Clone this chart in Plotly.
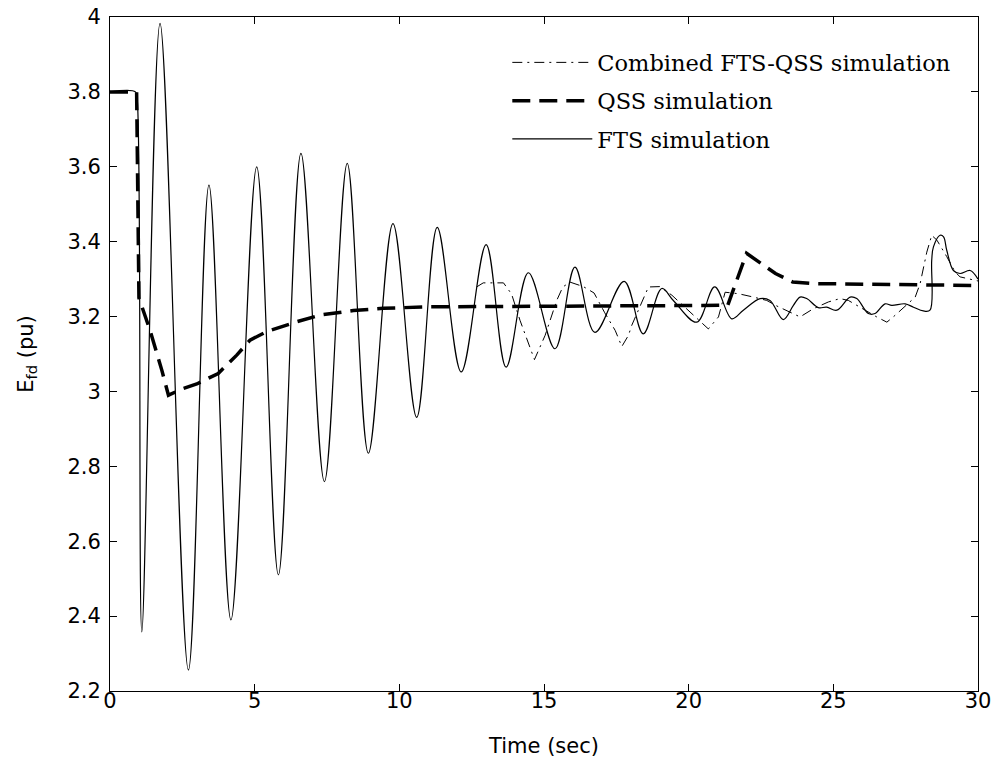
import plotly.graph_objects as go

# ---- data ----
fts_t = [0.0, 0.88, 0.94, 1.10, 1.73, 2.71, 3.42, 4.18, 5.07, 5.82, 6.60, 7.41, 8.20, 8.93,
         9.78, 10.60, 11.31, 12.14, 13.00, 13.69, 14.46, 15.38, 16.07, 16.76, 17.77, 18.43,
         19.07, 19.47, 20.28, 20.90, 21.49, 21.89, 22.47, 22.81, 23.27, 23.62, 23.85, 24.08,
         24.48, 24.77, 25.12, 25.58, 25.81, 26.21, 26.44, 26.79, 27.02, 27.48, 27.77, 28.11,
         28.34, 28.40, 28.46, 28.69, 28.81, 28.92, 29.15, 29.38, 29.73, 30.0]
fts_v = [3.80, 3.80, 3.78, 2.358, 3.983, 2.256, 3.551, 2.39, 3.60, 2.51, 3.636, 2.759, 3.609, 2.835,
         3.448, 2.931, 3.438, 3.052, 3.392, 3.065, 3.317, 3.114, 3.332, 3.158, 3.294, 3.154,
         3.275, 3.243, 3.185, 3.279, 3.194, 3.217, 3.248, 3.243, 3.192, 3.230, 3.252, 3.248,
         3.224, 3.225, 3.217, 3.252, 3.248, 3.208, 3.208, 3.234, 3.230, 3.234, 3.225, 3.215,
         3.217, 3.350, 3.386, 3.417, 3.413, 3.377, 3.323, 3.315, 3.323, 3.300]

qss_t = [0.0, 0.92, 1.00, 1.38, 1.79, 2.02, 2.53, 3.00, 3.74, 4.38, 4.84, 5.42, 6.45, 7.26,
         8.41, 9.45, 11.0, 15.0, 21.35, 22.00, 22.50, 23.00, 23.60, 24.30, 30.0]
qss_v = [3.80, 3.80, 3.25, 3.164, 3.057, 2.99, 3.008, 3.02, 3.048, 3.097, 3.137, 3.16, 3.186, 3.204,
         3.216, 3.222, 3.226, 3.228, 3.230, 3.369, 3.341, 3.315, 3.292, 3.288, 3.283]

comb_t = [12.67, 12.90, 13.60, 13.88, 14.17, 14.52, 14.67, 15.04, 15.44, 15.65, 15.90, 16.36,
          16.73, 17.10, 17.46, 17.69, 17.92, 18.03, 18.61, 19.00, 19.42, 20.68, 21.03, 21.26,
          21.72, 22.24, 22.70, 23.00, 23.85, 24.31, 24.83, 25.23, 25.52, 26.50, 26.85, 27.13,
          27.83, 28.00, 28.23, 28.40, 28.58, 28.92, 29.21, 29.38, 30.0]
comb_v = [3.279, 3.290, 3.290, 3.260, 3.190, 3.115, 3.085, 3.150, 3.243, 3.279, 3.292, 3.280,
          3.263, 3.210, 3.163, 3.120, 3.150, 3.176, 3.279, 3.280, 3.257, 3.167, 3.199, 3.265,
          3.261, 3.252, 3.243, 3.230, 3.199, 3.221, 3.239, 3.248, 3.243, 3.199, 3.185, 3.203,
          3.252, 3.288, 3.372, 3.417, 3.404, 3.360, 3.319, 3.306, 3.295]

x_ticks = [0, 5, 10, 15, 20, 25, 30]
y_ticks = [2.2, 2.4, 2.6, 2.8, 3.0, 3.2, 3.4, 3.6, 3.8, 4.0]

fig = go.Figure()
fig.add_trace(go.Scatter(x=comb_t, y=comb_v, mode="lines", name="Combined FTS-QSS simulation",
                         legendgroup="a",
                         line=dict(color="black", width=1, dash="10px,5px,2px,5px")))
fig.add_trace(go.Scatter(x=qss_t, y=qss_v, mode="lines", name="QSS simulation",
                         legendgroup="b",
                         line=dict(color="black", width=3.5, dash="18px,9px")))
fig.add_trace(go.Scatter(x=fts_t, y=fts_v, mode="lines", name="FTS simulation",
                         legendgroup="c",
                         line=dict(color="black", width=1.2, shape="spline", smoothing=1.0)))

axis_common = dict(showgrid=False, zeroline=False, showline=True, linecolor="black",
                   linewidth=1, mirror="allticks", ticks="inside", ticklen=7,
                   tickcolor="black", automargin=False, ticklabeloverflow="allow",
                   tickfont=dict(family="DejaVu Sans", size=21, color="black"))

fig.update_layout(
    width=997, height=767,
    margin=dict(l=110, r=19, t=17, b=76),
    paper_bgcolor="white", plot_bgcolor="white",
    showlegend=True,
    legend=dict(x=0.975, y=0.964, xanchor="right", yanchor="top",
                bgcolor="rgba(0,0,0,0)", borderwidth=0, tracegroupgap=6,
                itemwidth=80,
                font=dict(family="DejaVu Serif", size=22.5, color="black")),
    xaxis=dict(range=[0, 30], tickvals=x_ticks, ticklabelstandoff=-9, **axis_common,
               title=dict(text="Time (sec)", standoff=26,
                          font=dict(family="DejaVu Sans", size=21, color="black"))),
    yaxis=dict(range=[2.2, 4.0], tickvals=y_ticks, ticklabelstandoff=4, **axis_common,
               title=dict(text="E<sub>fd</sub> (pu)", standoff=28,
                          font=dict(family="DejaVu Sans", size=21, color="black"))),
)

# remove the default page margin so the figure fills the 997x767 window exactly
fig.write_html("out.html",
               config={"displayModeBar": False},
               post_script="document.body.style.margin='0';document.body.style.overflow='hidden';")
